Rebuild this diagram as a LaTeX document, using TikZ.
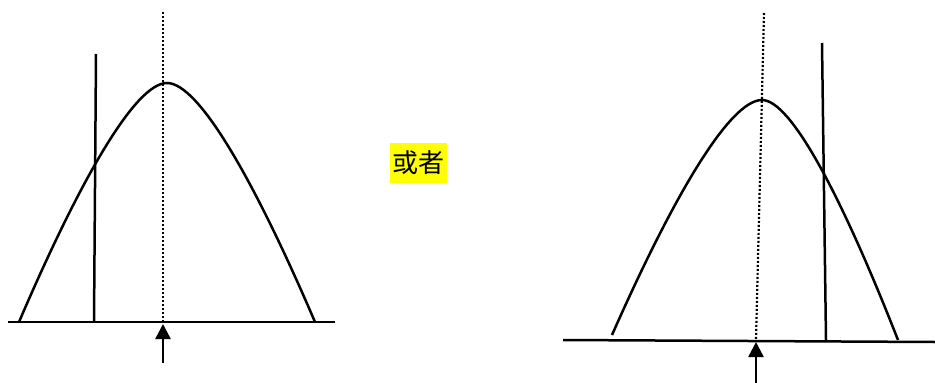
\documentclass[tikz,border=0pt]{standalone}
\usepackage{fontspec}
\newfontfamily\cjk{Noto Sans CJK SC}
\usetikzlibrary{arrows.meta}
\definecolor{hilite}{RGB}{255,255,0}

\begin{document}
\begin{tikzpicture}[x=1pt,y=-1pt,
  ln/.style={line width=2.5pt},
  dotln/.style={line width=2.2pt,dash pattern=on 2pt off 2pt},
  arr/.style={-{Triangle[length=15pt,width=15pt]},line width=2.5pt},
  tag/.style={fill=hilite,inner sep=0pt,minimum width=57pt,minimum height=40pt,font=\cjk\fontsize{26}{26}\selectfont}]
  \useasboundingbox (0,0) rectangle (935,383);
  % left case
  \coordinate (la) at (8,322);
  \coordinate (lb) at (335,322);
  \draw[ln] (la) -- (lb);
  \draw[ln] (19,322) .. controls (79,182) and (135,83) .. (167,83)
                     .. controls (199,83) and (255,182) .. (315,322);
  \draw[dotln] (163,12) -- (163,322);
  \draw[ln] (96,54) -- (94,322);
  \coordinate (ltail) at (163,363);
  \coordinate (ltip) at (163,324);
  \draw[arr] (ltail) -- (ltip);
  % middle label
  \node[tag] (or) at (418.5,163) {或者};
  % right case
  \coordinate (ra) at (563,340);
  \coordinate (rb) at (935,342);
  \draw[ln] (ra) -- (rb);
  \draw[ln] (612,335) .. controls (672.8,197.3) and (729.6,100) .. (762,100)
                      .. controls (791.4,100) and (842.9,199.4) .. (898,340);
  \draw[dotln] (764,13) -- (756,340);
  \draw[ln] (822,43) -- (826,340);
  \coordinate (rtail) at (756,383);
  \coordinate (rtip) at (756,342);
  \draw[arr] (rtail) -- (rtip);
\end{tikzpicture}
\end{document}
